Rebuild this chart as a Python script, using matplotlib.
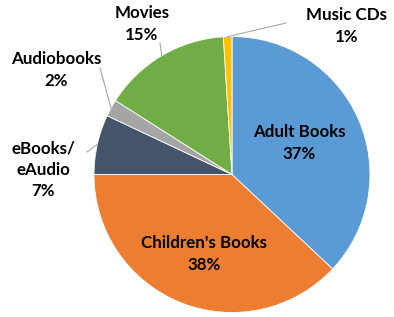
import matplotlib
matplotlib.use("Agg")
import matplotlib.pyplot as plt
import numpy as np

categories = ["Adult Books", "Children's Books", "eBooks/\neAudio", "Audiobooks", "Movies", "Music CDs"]
shares = [37, 38, 7, 2, 15, 1]
colors = ["#5B9BD5", "#ED7D31", "#44546A", "#A5A5A5", "#70AD47", "#FFC000"]

# label layout in pixel coords (x, y from top)
label_pos = [(299, 143), (204, 254), (43, 170), (56, 70), (142, 24), (347, 26)]
# leader line start points (None = label inside slice)
leader_start = [None, None, (87, 152), (100, 68), (160, 43), (286, 23)]

W, H = 394, 317
fig = plt.figure(figsize=(W / 100, H / 100), dpi=100)
ax = fig.add_axes([0, 0, 1, 1])

cx, cy, r = 232, H - 174.5, 138
wedges, _ = ax.pie(shares, colors=colors, startangle=90, counterclock=False,
                   center=(cx, cy), radius=r, frame=True,
                   wedgeprops=dict(edgecolor="white", linewidth=0.6))
ax.set_xlim(0, W)
ax.set_ylim(0, H)
ax.set_aspect("equal")
ax.axis("off")

for w, name, val, (lx, ly), start in zip(wedges, categories, shares, label_pos, leader_start):
    ax.text(lx, H - ly, f"{name}\n{val}%", ha="center", va="center", fontsize=12.2,
            fontweight="bold", family="Lato", linespacing=1.4)
    if start is not None:
        mid = np.deg2rad((w.theta1 + w.theta2) / 2)
        ex, ey = cx + r * np.cos(mid), cy + r * np.sin(mid)
        ax.plot([start[0], ex], [H - start[1], ey], color="#A6A6A6", lw=0.8)

fig.savefig("out.png", dpi=100)
